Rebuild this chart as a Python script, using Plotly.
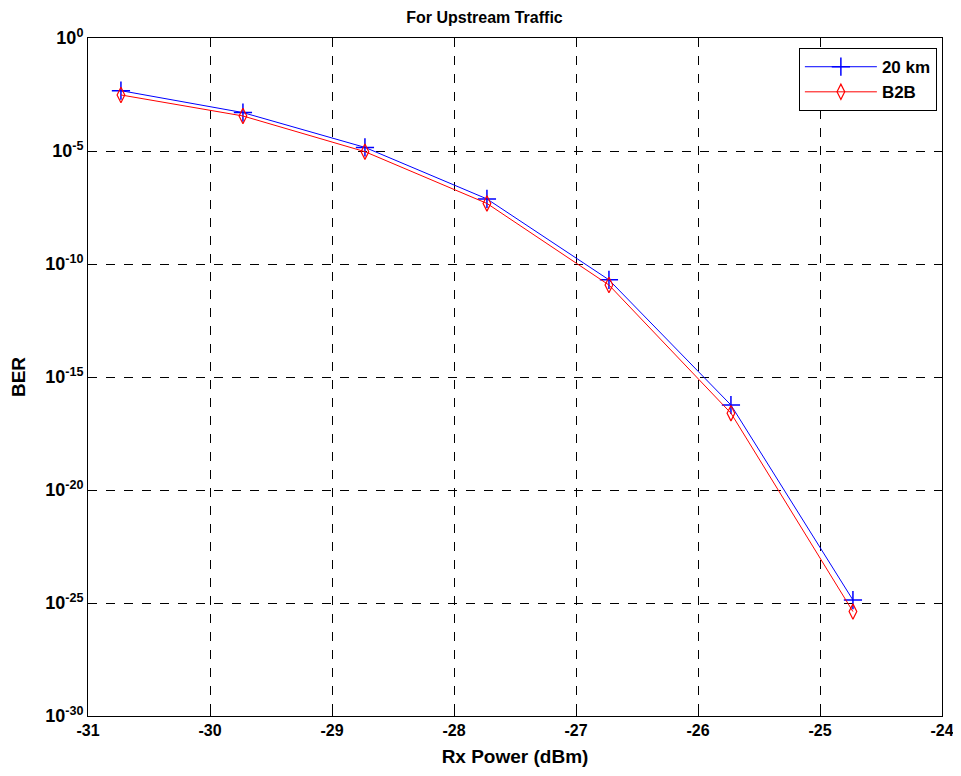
import plotly.graph_objects as go

rx_power = [-30.73, -29.73, -28.73, -27.73, -26.73, -25.73, -24.73]
ber_20km_exp = [-2.33, -3.30, -4.84, -7.12, -10.70, -16.24, -24.87]
ber_b2b_exp = [-2.52, -3.45, -5.03, -7.32, -10.93, -16.60, -25.38]
ber_20km = [10 ** e for e in ber_20km_exp]
ber_b2b = [10 ** e for e in ber_b2b_exp]

x_ticks = [-31, -30, -29, -28, -27, -26, -25, -24]
y_tick_exps = [0, -5, -10, -15, -20, -25, -30]
y_tickvals = [10 ** e for e in y_tick_exps]
y_ticktext = ["<b>10<sup>%d</sup></b>" % e for e in y_tick_exps]

font_family = "Liberation Sans, Arial, sans-serif"

fig = go.Figure()
fig.add_trace(go.Scatter(
    x=rx_power, y=ber_20km, mode="lines+markers", name="20 km",
    line=dict(color="#0000ff", width=1),
    marker=dict(symbol="cross-thin", size=13, color="#0000ff",
                line=dict(color="#0000ff", width=1.5)),
))
fig.add_trace(go.Scatter(
    x=rx_power, y=ber_b2b, mode="lines+markers", name="B2B",
    line=dict(color="#ff0000", width=1),
    marker=dict(symbol="diamond-tall-open", size=11, color="#ff0000",
                line=dict(color="#ff0000", width=1.2)),
))

fig.update_layout(
    width=953, height=760,
    margin=dict(l=80, r=19, t=30, b=52, autoexpand=False),
    paper_bgcolor="white", plot_bgcolor="white",
    font=dict(family=font_family, size=16, color="black"),
    title=dict(text="<b>For Upstream Traffic</b>", x=0.5, xanchor="center",
               y=1 - 9 / 760, yanchor="middle", font=dict(size=16)),
    legend=dict(x=0.994, y=0.985, xanchor="right", yanchor="top",
                bordercolor="black", borderwidth=1, bgcolor="white",
                font=dict(size=17, family=font_family, weight="bold"),
                tracegroupgap=0, itemwidth=72),
    showlegend=True,
)
fig.update_xaxes(
    range=[-31, -24], tickvals=x_ticks,
    ticktext=["<b>%d</b>" % v for v in x_ticks],
    tickfont=dict(size=16), automargin=False, ticklabeloverflow="allow",
    showline=True, linecolor="black", linewidth=1, mirror=True,
    ticks="inside", ticklen=5, tickcolor="black",
    showgrid=True, gridcolor="black", griddash="dash", gridwidth=1,
    zeroline=False,
    title=dict(text="<b>Rx Power (dBm)</b>", standoff=11, font=dict(size=19)),
)
fig.update_yaxes(
    type="log", range=[-30, 0], tickvals=y_tickvals, ticktext=y_ticktext,
    tickfont=dict(size=18), automargin=False, ticklabeloverflow="allow",
    showline=True, linecolor="black", linewidth=1, mirror=True,
    ticks="inside", ticklen=5, tickcolor="black",
    showgrid=True, gridcolor="black", griddash="dash", gridwidth=1,
    zeroline=False,
    title=dict(text="<b>BER</b>", standoff=14, font=dict(size=19)),
)

fig.write_html("out.html")
